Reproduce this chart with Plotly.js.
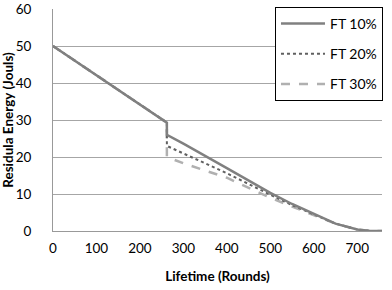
<!DOCTYPE html>
<html>
<head>
<meta charset="utf-8">
<script src="https://cdn.plot.ly/plotly-3.0.1.min.js"></script>
<style>html,body{margin:0;padding:0;background:#fff;}#chart{width:392px;height:290px;}</style>
</head>
<body>
<div id="chart"></div>
<script>
const rounds = [0, 100, 200, 262, 262, 300, 400, 500, 550, 600, 650, 700, 730, 757];
const ft10 = [50, 42.1, 34.2, 29.3, 26, 23.6, 17, 10.3, 7.3, 4.6, 2, 0.4, 0, 0];
const ft20 = [50, 42.1, 34.2, 29.3, 23, 21, 15.6, 9.8, 7, 4.5, 2, 0.4, 0, 0];
const ft30 = [50, 42.1, 34.2, 29.3, 20, 18.3, 14.4, 9, 6.6, 4.4, 2, 0.4, 0, 0];
const seriesNames = ["FT 10%", "FT 20%", "FT 30%"];
const xTicks = [0, 100, 200, 300, 400, 500, 600, 700];
const yTicks = [0, 10, 20, 30, 40, 50, 60];

const font = "Lato, 'Open Sans', sans-serif";
const traces = [
  {x: rounds, y: ft30, name: seriesNames[2], legendgroup: "c", legendrank: 3, mode: "lines",
   line: {color: "#b0b0b0", width: 2.5, dash: "dash"}},
  {x: rounds, y: ft20, name: seriesNames[1], legendgroup: "b", legendrank: 2, mode: "lines",
   line: {color: "#606060", width: 2, dash: "dot"}},
  {x: rounds, y: ft10, name: seriesNames[0], legendgroup: "a", legendrank: 1, mode: "lines",
   line: {color: "#808080", width: 2.5}}
];
const layout = {
  width: 392, height: 290,
  margin: {l: 53, r: 10, t: 8, b: 59},
  paper_bgcolor: "#fff", plot_bgcolor: "#fff",
  font: {family: font, size: 13, color: "#000"},
  showlegend: true,
  legend: {x: 1.003, y: 1.005, xanchor: "right", yanchor: "top",
    bordercolor: "#000", borderwidth: 1, bgcolor: "#fff",
    traceorder: "grouped", tracegroupgap: 9, itemwidth: 44,
    font: {family: font, size: 14, color: "#000"}},
  xaxis: {range: [0, 757], tickvals: xTicks, ticktext: xTicks.map(String),
    showgrid: false, zeroline: false, showline: true, linecolor: "#999", linewidth: 1,
    ticks: "", ticklen: 0, ticklabelstandoff: 5, tickfont: {family: font, size: 13.5},
    title: {text: "<b>Lifetime (Rounds)</b>", font: {family: font, size: 13.5}, standoff: 16}},
  yaxis: {range: [0, 60], tickvals: yTicks, ticktext: yTicks.map(String),
    showgrid: true, gridcolor: "#a6a6a6", gridwidth: 1,
    zeroline: false, showline: true, linecolor: "#999", linewidth: 1,
    ticks: "outside", ticklen: 18, tickcolor: "rgba(0,0,0,0)", tickfont: {family: font, size: 13.5},
    title: {text: "<b>Residula Energy (Jouls)</b>", font: {family: font, size: 13.5}, standoff: 2}}
};
Plotly.newPlot("chart", traces, layout, {staticPlot: true, displayModeBar: false});
</script>
</body>
</html>
